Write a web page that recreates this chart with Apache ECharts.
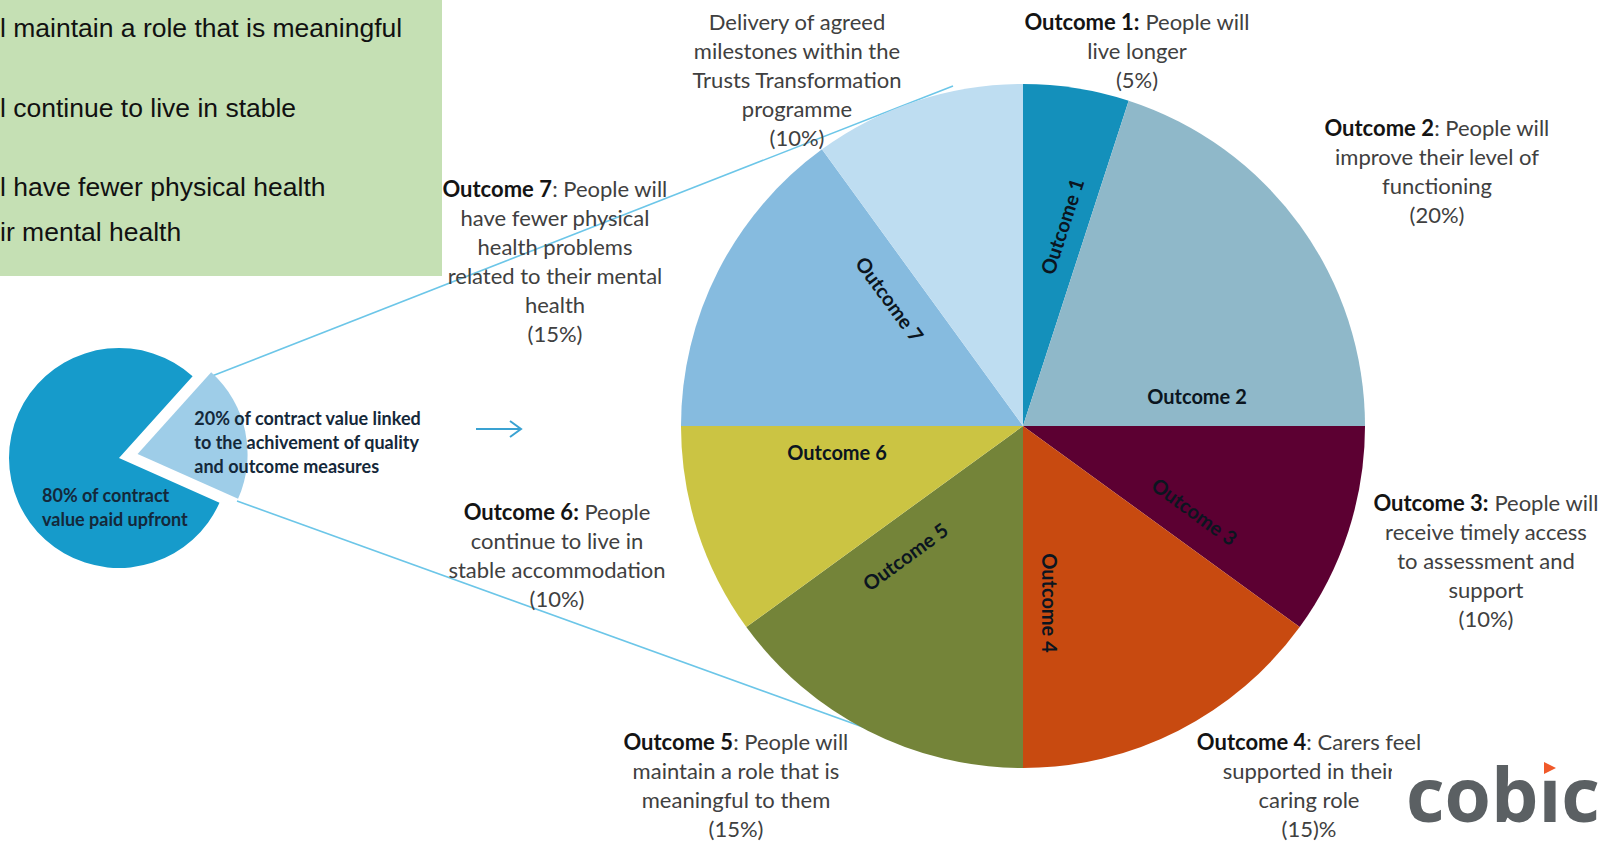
<!DOCTYPE html>
<html><head><meta charset="utf-8">
<script src="https://cdn.jsdelivr.net/npm/echarts@6/dist/echarts.min.js"></script>
<style>html,body{margin:0;padding:0;background:#fff}#c{width:1604px;height:843px}</style>
</head><body><div id="c"></div>
<script>
// ---------------- data ----------------
const categories = ['Outcome 1','Outcome 2','Outcome 3','Outcome 4','Outcome 5','Outcome 6','Outcome 7','Delivery of agreed milestones'];
const shares = [5, 20, 10, 15, 15, 10, 15, 10];
const sliceLabels = ['Outcome 1','Outcome 2','Outcome 3','Outcome 4','Outcome 5','Outcome 6','Outcome 7',''];
const outcomeTitles = ['Outcome 1:','Outcome 2','Outcome 3:','Outcome 4','Outcome 5','Outcome 6:','Outcome 7',''];
const outcomeTexts = [
  ' People will\nlive longer',
  ': People will\nimprove their level of\nfunctioning',
  ' People will\nreceive timely access\nto assessment and\nsupport',
  ': Carers feel\nsupported in their\ncaring role',
  ': People will\nmaintain a role that is\nmeaningful to them',
  ' People\ncontinue to live in\nstable accommodation',
  ': People will\nhave fewer physical\nhealth problems\nrelated to their mental\nhealth',
  'Delivery of agreed\nmilestones within the\nTrusts Transformation\nprogramme'
];
const shareTexts = ['(5%)','(20%)','(10%)','(15)%','(15%)','(10%)','(15%)','(10%)'];

const contractCategories = ['Quality and outcome measures','Paid upfront'];
const contractShares = [20, 80];
const contractLabels = ['20% of contract value linked\nto the achivement of quality\nand outcome measures', '80% of contract\nvalue paid upfront'];

const sidebarLines = ['l maintain a role that is meaningful', 'l continue to live in stable', 'l have fewer physical health', 'ir mental health'];
const logoText = 'cob\u0131c';

// ---------------- layout / style ----------------
const L = {
  cx: 1023, cy: 426, r: 342,
  scx: 119, scy: 458, sr: 110,
  innerAlong: [202, 174, 189, 177, 172, 186, 181, 180],
  innerPerp:  [25, 30, 32, 27, 36, 26, 33, 30],
  outerPos: [[1137,50],[1437,171],[1486,560],[1309,785],[736,785],[557,555],[555,261],[797,79]],
  contractLabelOffset: [[64,-21],[-77,49]],
  sidebarPos: [[0,28],[0,108],[0,187],[0,232]]
};
const COLORS = ['#1490BB','#8FB8C9','#5C0032','#C84A10','#748439','#CBC443','#86BBDF','#BEDDF1'];
const FONT = 'Lato, "Open Sans", sans-serif';

const total = shares.reduce((a, b) => a + b, 0);
const ends = []; let acc = 0;
shares.forEach(v => { acc += v; ends.push(acc / total * 360); });

const chart = echarts.init(document.getElementById('c'), null, {renderer: 'svg', width: 1604, height: 843});

function outerRich(i) {
  const lines = outcomeTexts[i].split('\n');
  let s = '';
  if (outcomeTitles[i]) s += '{b|' + outcomeTitles[i] + '}';
  s += '{n|' + lines[0] + '}';
  for (let k = 1; k < lines.length; k++) s += '\n{n|' + lines[k] + '}';
  s += '\n{n|' + shareTexts[i] + '}';
  return s;
}

const graphics = [];
// green box
graphics.push({type: 'rect', shape: {x: 0, y: 0, width: 442, height: 276}, style: {fill: '#C5E0B4'}, z: 1});
sidebarLines.forEach((t, i) => graphics.push({
  type: 'text', z: 2,
  style: {text: t, x: L.sidebarPos[i][0], y: L.sidebarPos[i][1], fill: '#111', font: '26.5px "Liberation Sans", Arial, sans-serif', align: 'left', verticalAlign: 'middle'}
}));
// connector lines
graphics.push({type: 'line', z: 0, shape: {x1: 212, y1: 376, x2: 953, y2: 86}, style: {stroke: '#6CC6E8', lineWidth: 1.6}});
graphics.push({type: 'line', z: 0, shape: {x1: 237, y1: 501, x2: 946, y2: 757}, style: {stroke: '#6CC6E8', lineWidth: 1.6}});
// arrow
graphics.push({type: 'line', shape: {x1: 476, y1: 429, x2: 521, y2: 429}, style: {stroke: '#3AA2D2', lineWidth: 2}});
graphics.push({type: 'polyline', shape: {points: [[510, 421], [521, 429], [510, 437]]}, style: {stroke: '#3AA2D2', lineWidth: 2, fill: null}});
// outer descriptive labels
categories.forEach((c, i) => graphics.push({
  type: 'text', z: 5,
  style: {
    text: outerRich(i), x: L.outerPos[i][0], y: L.outerPos[i][1], align: 'center', verticalAlign: 'middle',
    fontFamily: FONT, fontSize: 22, lineHeight: 29, fill: '#404040',
    rich: {
      b: {fontFamily: FONT, fontSize: 22, lineHeight: 29, fontWeight: 'bold', fill: '#141414'},
      n: {fontFamily: FONT, fontSize: 22, lineHeight: 29, fill: '#404040'}
    }
  }
}));
// logo
graphics.push({type: 'rect', z: 100, shape: {x: 1392, y: 752, width: 212, height: 91}, style: {fill: '#fff'}});
graphics.push({type: 'text', z: 101, style: {text: logoText, x: 1406, y: 793, fill: '#5B6063', font: 'bold 75px "Open Sans", sans-serif', align: 'left', verticalAlign: 'middle'}});
graphics.push({type: 'polygon', z: 101, shape: {points: [[1544, 762], [1556, 768], [1544, 774]]}, style: {fill: '#F0592A'}});

const option = {
  animation: false,
  backgroundColor: '#fff',
  graphic: {elements: graphics},
  series: [
    {
      type: 'pie', name: 'outcomes', center: [L.cx, L.cy], radius: [0, L.r], startAngle: 90, clockwise: true,
      silent: true, avoidLabelOverlap: false, z: 3,
      data: categories.map((n, i) => ({name: n, value: shares[i], itemStyle: {color: COLORS[i]}})),
      itemStyle: {borderWidth: 0},
      label: {
        show: true, position: 'inside', formatter: p => sliceLabels[p.dataIndex],
        color: '#0B1520', fontFamily: FONT, fontWeight: 'bold', fontSize: 20
      },
      labelLine: {show: false},
      labelLayout: function (p) {
        const i = p.dataIndex;
        const t = ends[i] * Math.PI / 180;
        const a = L.innerAlong[i], q = L.innerPerp[i];
        let rot = 90 - ends[i];
        while (rot < -90) rot += 180;
        while (rot >= 90) rot -= 180;
        return {
          x: L.cx + a * Math.sin(t) - q * Math.cos(t),
          y: L.cy - a * Math.cos(t) - q * Math.sin(t),
          rotate: rot, align: 'center', verticalAlign: 'middle'
        };
      },
      emphasis: {disabled: true}
    },
    {
      type: 'pie', name: 'contract', center: [L.scx, L.scy], radius: [0, L.sr], startAngle: 48, clockwise: true,
      silent: true, selectedMode: 'single', selectedOffset: 19, avoidLabelOverlap: false, z: 3,
      data: contractCategories.map((n, i) => ({name: n, value: contractShares[i], selected: i === 0,
        itemStyle: {color: ['#9ECDE8', '#169BCB'][i]}})),
      itemStyle: {borderWidth: 0},
      label: {
        show: true, position: 'inside', formatter: p => contractLabels[p.dataIndex],
        color: '#14283A', fontFamily: FONT, fontWeight: 'bold', fontSize: 18, lineHeight: 24, align: 'left'
      },
      labelLine: {show: false},
      labelLayout: function (p) {
        const o = L.contractLabelOffset[p.dataIndex];
        return {x: L.scx + o[0], y: L.scy + o[1], align: 'left', verticalAlign: 'middle'};
      },
      select: {itemStyle: {color: null}},
      emphasis: {disabled: true}
    }
  ]
};
chart.setOption(option);
</script></body></html>
